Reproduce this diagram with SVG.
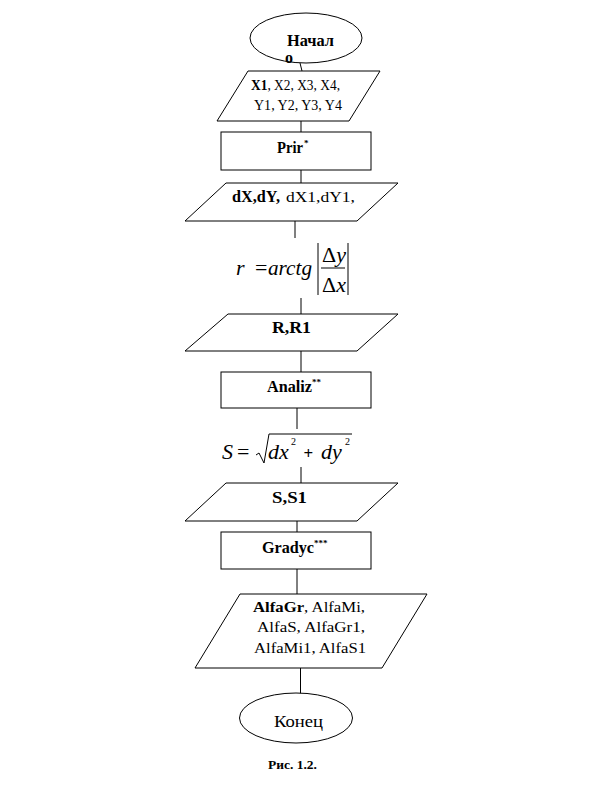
<svg xmlns="http://www.w3.org/2000/svg" width="613" height="789" viewBox="0 0 613 789">
<style>
.s{fill:#fff;stroke:#000;stroke-width:1}
.c line,.c path{stroke:#000;stroke-width:1;fill:none}
text{font-family:"Liberation Serif","Times New Roman",serif;fill:#000}
.b{font-weight:bold;font-size:16px}
.r{font-size:14px}
.m{font-size:15px}
.i{font-style:italic;font-size:22px}
.sup{font-size:9px;font-weight:bold}
</style>
<rect width="613" height="789" fill="#fff"/>
<g class="c" id="connectors">
<line x1="300" y1="63" x2="302" y2="71"/>
<line x1="301" y1="121" x2="301" y2="132"/>
<line x1="301" y1="170" x2="301" y2="183"/>
<line x1="295" y1="221" x2="295" y2="238"/>
<line x1="301" y1="298" x2="301" y2="314"/>
<line x1="301" y1="351" x2="301" y2="372"/>
<line x1="297" y1="408" x2="297" y2="429"/>
<line x1="301" y1="467" x2="301" y2="483"/>
<line x1="297" y1="521" x2="297" y2="532"/>
<line x1="297" y1="569" x2="297" y2="594"/>
<line x1="300.5" y1="668" x2="300.5" y2="694"/>
</g>
<g id="start">
<ellipse class="s" cx="306" cy="38" rx="56" ry="25"/>
<text class="b" x="287" y="46" textLength="47" lengthAdjust="spacingAndGlyphs">Начал</text>
<text class="b" x="285" y="63">о</text>
</g>
<g id="input1">
<polygon class="s" points="248,71 380,71 349,121 217,121"/>
<text class="r" x="251" y="90" textLength="89" lengthAdjust="spacingAndGlyphs"><tspan font-weight="bold">X1</tspan>, X2, X3, X4,</text>
<text class="r" x="254" y="110" textLength="88" lengthAdjust="spacingAndGlyphs">Y1, Y2, Y3, Y4</text>
</g>
<g id="prir">
<rect class="s" x="221" y="132" width="150" height="38"/>
<text class="b" x="277" y="153" textLength="26" lengthAdjust="spacingAndGlyphs">Prir</text>
<text class="sup" x="304" y="146">*</text>
</g>
<g id="output1">
<polygon class="s" points="226,183 398,183 357,221 185,221"/>
<text class="b" x="232" y="202" textLength="48" lengthAdjust="spacingAndGlyphs">dX,dY,</text>
<text class="r" x="286" y="202" textLength="69" lengthAdjust="spacingAndGlyphs">dX1,dY1,</text>
</g>
<g id="formula-r">
<text class="i" x="236" y="275">r</text>
<text x="255" y="275" font-size="22px">=</text>
<text class="i" x="268" y="275" textLength="44" lengthAdjust="spacingAndGlyphs">arctg</text>
<line x1="318" y1="243" x2="318" y2="295" stroke="#000" stroke-width="1"/>
<line x1="348" y1="243" x2="348" y2="295" stroke="#000" stroke-width="1"/>
<line x1="321" y1="268" x2="345" y2="268" stroke="#000" stroke-width="1"/>
<text x="322" y="262" font-size="22px">Δ<tspan font-style="italic">y</tspan></text>
<text x="322" y="292" font-size="22px">Δ<tspan font-style="italic">x</tspan></text>
</g>
<g id="output2">
<polygon class="s" points="228,314 398,314 357,351 185,351"/>
<text class="b" x="272" y="333" textLength="39" lengthAdjust="spacingAndGlyphs">R,R1</text>
</g>
<g id="analiz">
<rect class="s" x="221" y="372" width="150" height="36"/>
<text class="b" x="267" y="392" textLength="45" lengthAdjust="spacingAndGlyphs">Analiz</text>
<text class="sup" x="312" y="385">**</text>
</g>
<g id="formula-s">
<text class="i" x="222" y="459">S</text>
<text x="237" y="459" font-size="22px">=</text>
<path d="M256,455 L259,453 L264,463 L269,434 L352,434" stroke="#000" stroke-width="1" fill="none"/>
<text class="i" x="268" y="459">dx</text>
<text x="291" y="445" font-size="10px">2</text>
<text x="303.5" y="459" font-size="17px" font-weight="bold" font-family="'Liberation Sans',Arial,sans-serif">+</text>
<text class="i" x="321" y="459">dy</text>
<text x="345" y="445" font-size="10px">2</text>
</g>
<g id="output3">
<polygon class="s" points="226,483 398,483 357,521 185,521"/>
<text class="b" x="272" y="503" textLength="35" lengthAdjust="spacingAndGlyphs">S,S1</text>
</g>
<g id="gradyc">
<rect class="s" x="221" y="532" width="150" height="37"/>
<text class="b" x="262" y="553" textLength="52" lengthAdjust="spacingAndGlyphs">Gradyc</text>
<text class="sup" x="314" y="546">***</text>
</g>
<g id="output4">
<polygon class="s" points="240,594 427,594 382,668 195,668"/>
<text class="m" x="253" y="612" textLength="112" lengthAdjust="spacingAndGlyphs"><tspan font-weight="bold">AlfaGr</tspan>, AlfaMi,</text>
<text class="m" x="257" y="632" textLength="108" lengthAdjust="spacingAndGlyphs">AlfaS, AlfaGr1,</text>
<text class="m" x="254" y="653" textLength="112" lengthAdjust="spacingAndGlyphs">AlfaMi1, AlfaS1</text>
</g>
<g id="end">
<ellipse class="s" cx="296" cy="718" rx="56.5" ry="25"/>
<text x="274" y="727" font-size="16px" textLength="49" lengthAdjust="spacingAndGlyphs">Конец</text>
</g>
<g id="caption">
<text x="268" y="769" font-size="12px" font-weight="bold" textLength="49" lengthAdjust="spacingAndGlyphs">Рис. 1.2.</text>
</g>
</svg>
